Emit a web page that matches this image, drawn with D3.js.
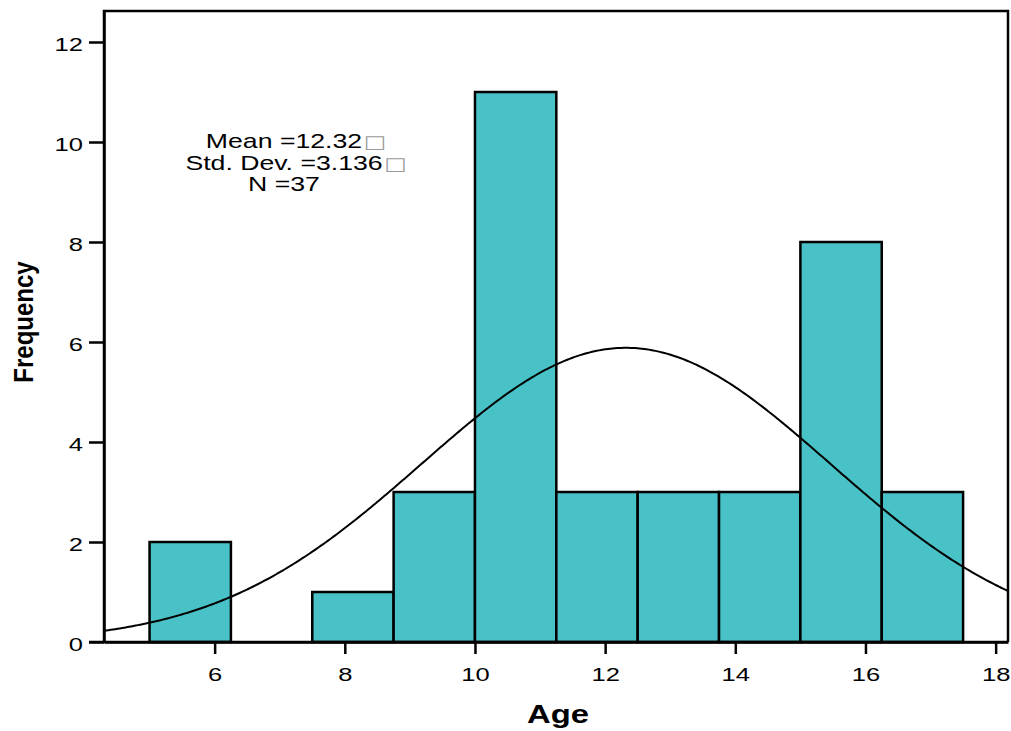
<!DOCTYPE html>
<html>
<head>
<meta charset="utf-8">
<script src="https://cdn.jsdelivr.net/npm/d3@7"></script>
<style>
  html, body { margin: 0; padding: 0; background: #fff; }
  svg { display: block; font-family: "Liberation Sans", Arial, sans-serif; }
</style>
</head>
<body>
<svg id="chart" width="1011" height="731"></svg>
<script>
// Histogram of ages with fitted normal curve
const binStarts = [5, 6.25, 7.5, 8.75, 10, 11.25, 12.5, 13.75, 15, 16.25];
const counts    = [2, 0, 1, 3, 11, 3, 3, 3, 8, 3];
const binWidth = 1.25;
const xTicks = [6, 8, 10, 12, 14, 16, 18];
const yTicks = [0, 2, 4, 6, 8, 10, 12];
const stats = { mean: 12.32, sd: 3.136, n: 37 };
const statLines = ["Mean =12.32", "Std. Dev. =3.136", "N =37"];

const svg = d3.select("#chart");
const plotL = 104, plotR = 1008, plotT = 11, plotB = 642;
const widen = 1.38; // horizontal stretch applied to the lettering

const x = d3.scaleLinear().domain([4.3, 18.19]).range([plotL, plotR]);
const y = d3.scaleLinear().domain([0, 12.62]).range([plotB, plotT]);

const bins = binStarts.map((s, i) => ({ x0: s, x1: s + binWidth, count: counts[i] }));

// bars
svg.append("g").selectAll("rect")
  .data(bins.filter(d => d.count > 0))
  .join("rect")
  .attr("x", d => x(d.x0))
  .attr("y", d => y(d.count))
  .attr("width", d => x(d.x1) - x(d.x0))
  .attr("height", d => y(0) - y(d.count))
  .attr("fill", "#48c2c6")
  .attr("stroke", "#000")
  .attr("stroke-width", 2.5);

// normal curve scaled to counts: n * binWidth * pdf
const pdf = v => Math.exp(-0.5 * ((v - stats.mean) / stats.sd) ** 2) / (stats.sd * Math.sqrt(2 * Math.PI));
const curvePts = d3.range(0, 401).map(i => {
  const v = 4.3 + (18.19 - 4.3) * i / 400;
  return [v, stats.n * binWidth * pdf(v)];
});
svg.append("defs").append("clipPath").attr("id", "plotclip")
  .append("rect").attr("x", plotL).attr("y", plotT).attr("width", plotR - plotL).attr("height", plotB - plotT);
svg.append("path")
  .datum(curvePts)
  .attr("clip-path", "url(#plotclip)")
  .attr("fill", "none")
  .attr("stroke", "#000")
  .attr("stroke-width", 2)
  .attr("d", d3.line().x(d => x(d[0])).y(d => y(d[1])));

// frame (top and right)
svg.append("path")
  .attr("d", `M${plotL},${plotB}V${plotT}H${plotR}V${plotB}`)
  .attr("fill", "none").attr("stroke", "#000").attr("stroke-width", 2.5);

// y axis
const yAxis = svg.append("g")
  .attr("transform", `translate(${plotL},0)`)
  .call(d3.axisLeft(y).tickValues(yTicks).tickSize(15).tickPadding(6).tickSizeOuter(0));
yAxis.select(".domain").attr("stroke-width", 2.5);
yAxis.selectAll(".tick line").attr("stroke-width", 2.5);
yAxis.selectAll(".tick text")
  .attr("font-size", 18.5).attr("fill", "#000")
  .attr("font-family", "Liberation Sans, Arial, sans-serif")
  .attr("x", 0).attr("dy", "0.46em")
  .attr("transform", `translate(-21,0) scale(${widen},1)`);

// x axis
const xAxis = svg.append("g")
  .attr("transform", `translate(0,${plotB})`)
  .call(d3.axisBottom(x).tickValues(xTicks).tickSize(12).tickPadding(14).tickSizeOuter(0));
xAxis.select(".domain").attr("stroke-width", 2.5);
xAxis.selectAll(".tick line").attr("stroke-width", 2.5);
xAxis.selectAll(".tick text")
  .attr("font-size", 18.5).attr("fill", "#000")
  .attr("font-family", "Liberation Sans, Arial, sans-serif")
  .attr("y", 0)
  .attr("transform", `translate(0,26) scale(${widen},1)`);

// extend baseline to meet the y-axis tick at zero
svg.append("line").attr("x1", plotL - 15).attr("x2", plotR).attr("y1", plotB).attr("y2", plotB)
  .attr("stroke", "#000").attr("stroke-width", 2.5);

// axis titles
svg.append("text").attr("transform", `translate(558,723) scale(1.26,1)`).attr("text-anchor", "middle")
  .attr("font-size", 26).attr("font-weight", "bold").text("Age");
svg.append("text").attr("transform", "translate(33,322) scale(1.16,1) rotate(-90)").attr("text-anchor", "middle")
  .attr("font-size", 24).attr("font-weight", "bold").text("Frequency");

// summary statistics, each line centred on its text
statLines.forEach((line, i) => {
  const g = svg.append("g").attr("transform", `translate(284,${148 + i * 21.5}) scale(1.3,1)`);
  const t = g.append("text").attr("font-size", 20.5);
  const main = t.append("tspan").text(line);
  if (i < 2) t.append("tspan").attr("fill", "#9a9a9a").attr("font-family", "DejaVu Sans")
    .attr("font-size", 18).attr("dx", 1).text("\u25A1");
  const w = main.node().getComputedTextLength();
  t.attr("x", -w / 2);
});
</script>
</body>
</html>
